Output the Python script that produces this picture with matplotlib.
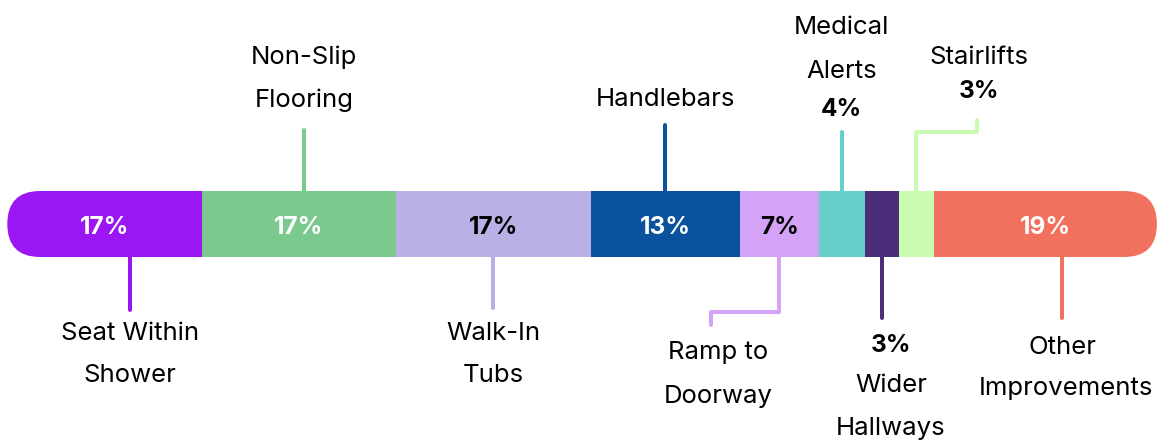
import matplotlib.pyplot as plt
from matplotlib.patches import FancyBboxPatch

plt.rcParams['font.family'] = ['Inter', 'DejaVu Sans']

# data: share of respondents (%), bar labels show rounded values
categories = ['Seat Within\nShower', 'Non-Slip\nFlooring', 'Walk-In\nTubs', 'Handlebars',
              'Ramp to\nDoorway', 'Medical\nAlerts', 'Wider\nHallways', 'Stairlifts',
              'Other\nImprovements']
values = [16.93, 16.87, 16.96, 12.96, 6.87, 4.0, 2.96, 3.04, 19.40]
colors = ['#9A17F4', '#7BC98F', '#B9B1E6', '#0A529E', '#D4A3F7',
          '#66CFC9', '#4B2D7A', '#C9FBB0', '#F2705E']
inner_text_colors = ['white', 'white', 'black', 'white', 'black',
                     None, None, None, 'white']

# layout (pixel units on the y axis, percent on the x axis)
PX = 11.497          # pixels per percent
X0 = 7.3             # left edge of bar in pixels
BAR_Y, BAR_H = 224, 66
LW = 4 * 72 / 100    # 4px lines
FS = 18.5            # category labels
FS_B = 17.5          # bold percentages

fig = plt.figure(figsize=(11.7, 4.4), dpi=100)
ax = fig.add_axes([0, 0, 1, 1])
ax.set_xlim(-X0 / PX, (1170 - X0) / PX)
ax.set_ylim(440, 0)
ax.axis('off')

lefts = [sum(values[:i]) for i in range(len(values))]
bars = ax.barh(BAR_Y, values, left=lefts, height=BAR_H, color=colors, linewidth=0)

r = 33 / PX
clip = FancyBboxPatch((0, BAR_Y - BAR_H / 2), sum(values), BAR_H,
                      boxstyle=f'round,pad=0,rounding_size={r}', mutation_aspect=PX,
                      transform=ax.transData, facecolor='none', edgecolor='none')
ax.add_patch(clip)
for b in bars:
    b.set_clip_path(clip)

centers = [l + v / 2 for l, v in zip(lefts, values)]
for c, v, tc in zip(centers, values, inner_text_colors):
    if tc:
        ax.text(c, BAR_Y + 3, f'{round(v)}%', color=tc, ha='center', va='center',
                fontsize=FS_B, fontweight='bold')

TOP, BOT = BAR_Y - BAR_H / 2, BAR_Y + BAR_H / 2


def px(x):
    return (x - X0) / PX


def leader(xs, ys, color):
    ax.plot(xs, ys, color=color, lw=LW, solid_capstyle='round', solid_joinstyle='round')


def label(x, y, text, step=43):
    for i, ln in enumerate(text.split('\n')):
        ax.text(x, y + i * step, ln, ha='center', va='center', fontsize=FS, color='black')


def pct(x, y, v):
    ax.text(x, y, f'{round(v)}%', ha='center', va='center', fontsize=FS_B, fontweight='bold')


# Seat Within Shower (below)
xs = px(130)
leader([xs, xs], [BOT, 310], colors[0])
label(xs, 333, categories[0])

# Non-Slip Flooring (above)
xs = px(304)
leader([xs, xs], [TOP, 130], colors[1])
label(xs, 57, categories[1])

# Walk-In Tubs (below)
xs = centers[2]
leader([xs, xs], [BOT, 308], colors[2])
label(xs, 333, categories[2])

# Handlebars (above)
xs = centers[3]
leader([xs, xs], [TOP, 125], colors[3])
label(xs, 100, categories[3])

# Ramp to Doorway (below, elbow)
xs = centers[4]
leader([xs, xs, px(711), px(711)], [BOT, 312, 312, 325], colors[4])
label(px(718), 353, categories[4])

# Medical Alerts (above)
xs = centers[5]
leader([xs, xs], [TOP, 132], colors[5])
label(xs, 28, categories[5])
pct(xs, 110, values[5])

# Wider Hallways (below)
xs = centers[6]
leader([xs, xs], [BOT, 318], colors[6])
pct(px(891), 345, values[6])
label(px(891), 385, categories[6])

# Stairlifts (above, elbow)
xs = centers[7]
leader([xs, xs, px(977), px(977)], [TOP, 132, 132, 120], colors[7])
label(px(979), 57, categories[7])
pct(px(979), 92, values[7])

# Other Improvements (below)
xs = px(1062)
leader([xs, xs], [BOT, 318], colors[8])
ax.text(xs, 347, 'Other', ha='center', va='center', fontsize=FS)
ax.text(px(1066), 389, 'Improvements', ha='center', va='center', fontsize=FS)

fig.savefig('out.png', dpi=100)
